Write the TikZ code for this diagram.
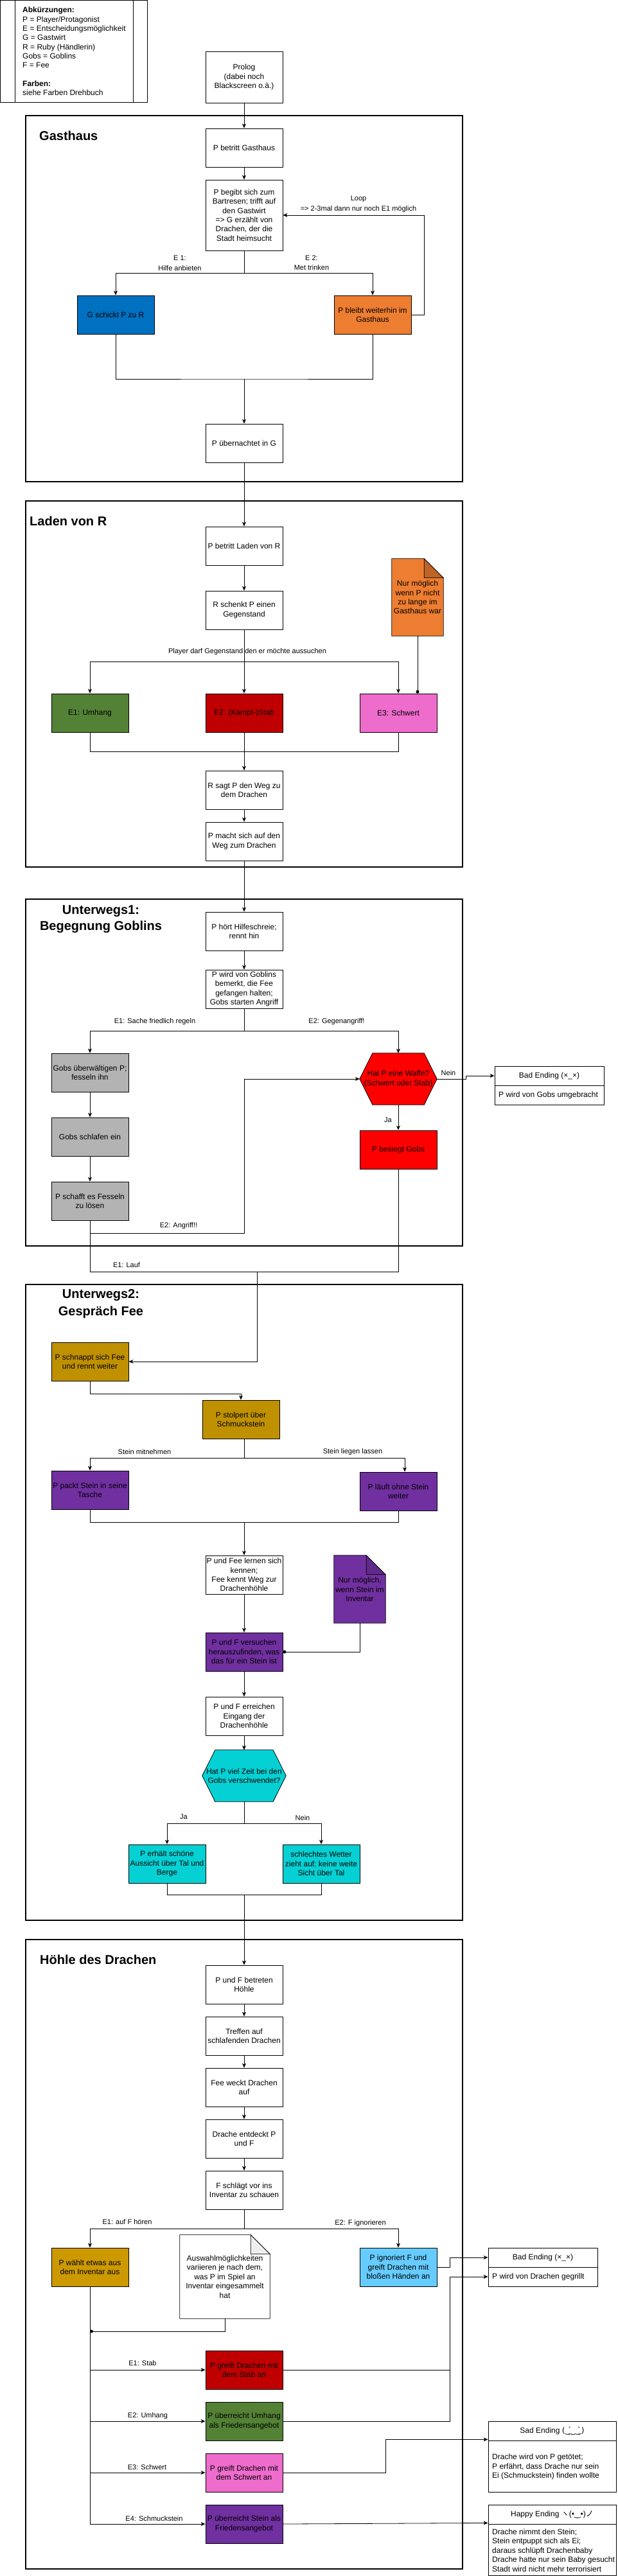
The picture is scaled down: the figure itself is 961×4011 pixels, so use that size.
\documentclass[tikz,border=0pt]{standalone}
\usepackage{fontspec}
\setmainfont{Liberation Sans}
\newfontfamily\djv{DejaVu Sans}
\newfontfamily\cjkf{Noto Sans CJK JP}
\usetikzlibrary{arrows.meta,calc}
\definecolor{cblue}{HTML}{0070C0}
\definecolor{corange}{HTML}{ED7D31}
\definecolor{cgreen}{HTML}{538135}
\definecolor{cdred}{HTML}{C00000}
\definecolor{cpink}{HTML}{EE6CCC}
\definecolor{cgray}{HTML}{B3B3B3}
\definecolor{cred}{HTML}{FF0000}
\definecolor{cgold}{HTML}{BF9000}
\definecolor{cgoldb}{HTML}{CC9900}
\definecolor{cpurple}{HTML}{7030A0}
\definecolor{ccyan}{HTML}{05D1D4}
\definecolor{clblue}{HTML}{66CCFF}
\definecolor{cfold}{HTML}{EEEEEE}
\newcommand\fA{\fontsize{12}{14.4}\selectfont}
\newcommand\fL{\fontsize{12}{14.3}\selectfont}
\newcommand\fB{\fontsize{11}{15.5}\selectfont}
\newcommand\fT{\fontsize{20}{25}\selectfont\bfseries}
\newcommand\fTT{\fontsize{20}{27}\selectfont\bfseries}
\tikzset{
  box/.style={draw, line width=0.8pt, minimum width=120pt, minimum height=60pt, inner sep=1pt, align=center, font=\fA},
  ghost/.style={draw=none, inner sep=0pt},
  frame/.style={draw, line width=1.2pt},
  lbl/.style={font=\fB, inner sep=0pt, align=center},
  ttl/.style={font=\fT, inner sep=0pt, align=center},
  con/.style={line width=0.8pt},
  arr/.style={-{Stealth[length=7pt,width=6pt,inset=2pt]}, line width=0.8pt},
  dotend/.style={-{Circle[length=5pt,width=5pt]}, line width=0.8pt},
  hdr/.style={draw, line width=0.8pt, minimum height=30pt, inner sep=1pt, font=\fA},
  bodytxt/.style={anchor=west, align=left, inner sep=0pt, font=\fA},
}
\begin{document}
\begin{tikzpicture}[x=1pt,y=-1pt]
\useasboundingbox (0,0) rectangle (961,4011);

% ---------- frames ----------
\draw[frame] (40,180) rectangle (720,750);
\draw[frame] (40,780) rectangle (720,1350);
\draw[frame] (40,1400) rectangle (720,1940);
\draw[frame] (40,2000) rectangle (720,2990);
\draw[frame] (40,3020) rectangle (720,4000);

\node[ttl, anchor=west] (t1) at (61,211) {Gasthaus};
\node[ttl, anchor=west] (t2) at (46,811) {Laden von R};
\node[ttl] (t3) at (157,1431.5) {Unterwegs1:\\Begegnung Goblins};
\node[ttl, font=\fTT] (t4) at (157,2030.5) {Unterwegs2:\\Gespräch Fee};
\node[ttl, anchor=west] (t5) at (62,3051) {Höhle des Drachen};

% ---------- legend ----------
\node[draw, line width=0.8pt, minimum width=229pt, minimum height=159pt, inner sep=0pt] (legend) at (115,80) {};
\draw[con] ($(legend.north west)+(23,0)$) -- ($(legend.south west)+(23,0)$);
\draw[con] ($(legend.north east)+(-23,0)$) -- ($(legend.south east)+(-23,0)$);
\node[anchor=west, align=left, font=\fL, inner sep=0pt] (legendtext) at (35,80) {\textbf{Abkürzungen:}\\P = Player/Protagonist\\E = Entscheidungsmöglichkeit\\G = Gastwirt\\R = Ruby (Händlerin)\\Gobs = Goblins\\F = Fee\\[14.3pt]\textbf{Farben:}\\siehe Farben Drehbuch};

% ---------- prolog + Gasthaus ----------
\node[box, minimum height=80pt] (prolog) at (380,120) {Prolog\\(dabei noch\\Blackscreen o.ä.)};
\node[box] (g1) at (380,230) {P betritt Gasthaus};
\node[box, minimum height=110pt] (g2) at (380,335) {P begibt sich zum\\Bartresen; trifft auf\\den Gastwirt\\=> G erzählt von\\Drachen, der die\\Stadt heimsucht};
\node[box, fill=cblue] (g3) at (180,490) {G schickt P zu R};
\node[box, fill=corange] (g4) at (580,490) {P bleibt weiterhin im\\Gasthaus};
\node[box] (g5) at (380,690) {P übernachtet in G};

\draw[arr] (prolog.south) -- (g1.north);
\draw[arr] (g1.south) -- (g2.north);
\coordinate (s1) at (380,425);
\draw[con] (g2.south) -- (s1);
\draw[arr] (s1) -| (g3.north);
\draw[arr] (s1) -| (g4.north);
\node[lbl] (l_e1) at (280,410) {E 1:\\Hilfe anbieten};
\node[lbl] (l_e2) at (485,409) {E 2:\\Met trinken};
\draw[arr] (g4.east) -- ++(20,0) |- (g2.east);
\node[lbl] (l_loop) at (558,318) {Loop\\=> 2-3mal dann nur noch E1 möglich};
\coordinate (m1) at (380,590);
\draw[con] (g3.south) |- (m1) -| (g4.south);
\draw[arr] (m1) -- (g5.north);

% ---------- Laden von R ----------
\node[box] (l1) at (380,850) {P betritt Laden von R};
\node[box] (l2) at (380,950) {R schenkt P einen\\Gegenstand};
\node[ghost, minimum width=80pt, minimum height=120pt] (lnote) at (650,930) {};
\draw[fill=corange, line width=0.8pt] (lnote.north west) -- ($(lnote.north east)+(-30,0)$) -- ($(lnote.north east)+(0,30)$) -- (lnote.south east) -- (lnote.south west) -- cycle;
\draw[fill=corange!80!black, line width=0.8pt] ($(lnote.north east)+(-30,0)$) -- ($(lnote.north east)+(-30,30)$) -- ($(lnote.north east)+(0,30)$) -- cycle;
\node[font=\fA, align=center, inner sep=0pt] (lnotet) at (650,930) {Nur möglich\\wenn P nicht\\zu lange im\\Gasthaus war};
\node[box, fill=cgreen] (l3) at (140,1110) {E1: Umhang};
\node[box, fill=cdred] (l4) at (380,1110) {E2: (Kampf-)Stab};
\node[box, fill=cpink] (l5) at (620,1110) {E3: Schwert};
\node[box] (l6) at (380,1230) {R sagt P den Weg zu\\dem Drachen};
\node[box] (l7) at (380,1310) {P macht sich auf den\\Weg zum Drachen};

\draw[arr] (g5.south) -- (l1.north);
\draw[arr] (l1.south) -- (l2.north);
\coordinate (s2) at (380,1030);
\draw[arr] (l2.south) -- (l4.north);
\draw[arr] (s2) -| (l3.north);
\draw[arr] (s2) -| (l5.north);
\node[lbl] (l_player) at (385,1015) {Player darf Gegenstand den er möchte aussuchen};
\draw[dotend] (lnote.south) -- (lnote.south |- l5.north);
\coordinate (m2) at (380,1170);
\draw[con] (l3.south) |- (m2) -| (l5.south);
\draw[arr] (l4.south) -- (l6.north);
\draw[arr] (l6.south) -- (l7.north);

% ---------- Unterwegs1 ----------
\node[box] (u1) at (380,1450) {P hört Hilfeschreie;\\rennt hin};
\node[box] (u2) at (380,1540) {P wird von Goblins\\bemerkt, die Fee\\gefangen halten;\\Gobs starten Angriff};
\node[box, fill=cgray] (u3) at (140,1670) {Gobs überwältigen P;\\fesseln ihn};
\node[box, fill=cgray] (u4) at (140,1770) {Gobs schlafen ein};
\node[box, fill=cgray] (u5) at (140,1870) {P schafft es Fesseln\\zu lösen};
\node[ghost, minimum width=120pt, minimum height=80pt] (u6) at (620,1680) {};
\draw[fill=cred, line width=0.8pt] ($(u6.north west)+(20,0)$) -- ($(u6.north east)+(-20,0)$) -- (u6.east) -- ($(u6.south east)+(-20,0)$) -- ($(u6.south west)+(20,0)$) -- (u6.west) -- cycle;
\node[font=\fA, align=center, inner sep=0pt] (u6t) at (620,1680) {Hat P eine Waffe?\\(Schwert oder Stab)};
\node[box, fill=cred] (u7) at (620,1790) {P besiegt Gobs};
\node[hdr, minimum width=170pt] (bad1h) at (855,1675) {Bad Ending (×\_×)};
\node[hdr, minimum width=170pt] (bad1b) at (855,1705) {};
\node[bodytxt] (bad1t) at (776,1705) {P wird von Gobs umgebracht};

\draw[arr] (l7.south) -- (u1.north);
\draw[arr] (u1.south) -- (u2.north);
\coordinate (s3) at (380,1605);
\draw[con] (u2.south) -- (s3);
\draw[arr] (s3) -| (u3.north);
\draw[arr] (s3) -| (u6.north);
\node[lbl] (l_u1) at (241,1591) {E1: Sache friedlich regeln};
\node[lbl] (l_u2) at (524,1591) {E2: Gegenangriff!};
\draw[arr] (u3.south) -- (u4.north);
\draw[arr] (u4.south) -- (u5.north);
\coordinate (a1) at (380,1920);
\draw[arr] (u5.south) |- (a1) |- (u6.west);
\node[lbl] (l_u3) at (278,1909) {E2: Angriff!!};
\draw[arr] (u6.south) -- (u7.north);
\node[lbl] (l_ja1) at (604,1744) {Ja};
\draw[arr] (u6.east) -- ++(45,0) |- (bad1h.west);
\node[lbl] (l_nein1) at (698,1671) {Nein};
\coordinate (m3) at (400,1980);
\draw[con] (u5.south) |- (m3) -| (u7.south);
\node[lbl] (l_lauf) at (197,1970) {E1: Lauf};

% ---------- Unterwegs2 ----------
\node[box, fill=cgold] (w1) at (140,2120) {P schnappt sich Fee\\und rennt weiter};
\node[box, fill=cgold] (w2) at (375,2210) {P stolpert über\\Schmuckstein};
\node[box, fill=cpurple] (w3) at (140,2320) {P packt Stein in seine\\Tasche};
\node[box, fill=cpurple] (w4) at (620,2322) {P läuft ohne Stein\\weiter};
\node[box] (w5) at (380,2452) {P und Fee lernen sich\\kennen;\\Fee kennt Weg zur\\Drachenhöhle};
\node[ghost, minimum width=80pt, minimum height=105pt] (wnote) at (560,2474.5) {};
\draw[fill=cpurple, line width=0.8pt] (wnote.north west) -- ($(wnote.north east)+(-30,0)$) -- ($(wnote.north east)+(0,30)$) -- (wnote.south east) -- (wnote.south west) -- cycle;
\draw[fill=cpurple!85!black, line width=0.8pt] ($(wnote.north east)+(-30,0)$) -- ($(wnote.north east)+(-30,30)$) -- ($(wnote.north east)+(0,30)$) -- cycle;
\node[font=\fA, align=center, inner sep=0pt] (wnotet) at (560,2475) {Nur möglich,\\wenn Stein im\\Inventar};
\node[box, fill=cpurple] (w6) at (380,2572) {P und F versuchen\\herauszufinden, was\\das für ein Stein ist};
\node[box] (w7) at (380,2672) {P und F erreichen\\Eingang der\\Drachenhöhle};
\node[ghost, minimum width=130pt, minimum height=80pt] (w8) at (380,2765) {};
\draw[fill=ccyan, line width=0.8pt] ($(w8.north west)+(20,0)$) -- ($(w8.north east)+(-20,0)$) -- (w8.east) -- ($(w8.south east)+(-20,0)$) -- ($(w8.south west)+(20,0)$) -- (w8.west) -- cycle;
\node[font=\fA, align=center, inner sep=0pt] (w8t) at (380,2765) {Hat P viel Zeit bei den\\Gobs verschwendet?};
\node[box, fill=ccyan] (w9) at (260,2902) {P erhält schöne\\Aussicht über Tal und\\Berge};
\node[box, fill=ccyan] (w10) at (500,2902) {schlechtes Wetter\\zieht auf; keine weite\\Sicht über Tal};

\draw[arr] (m3) |- (w1.east);
\draw[arr] (w1.south) -- ++(0,20) -| (w2.north);
\coordinate (s4) at (380,2270);
\draw[con] (w2.south -| s4) -- (s4);
\draw[arr] (s4) -| (w3.north);
\draw[arr] (s4) -| ([xshift=10pt]w4.north);
\node[lbl] (l_w1) at (225,2261) {Stein mitnehmen};
\node[lbl] (l_w2) at (549,2261) {Stein liegen lassen};
\coordinate (m4) at (380,2370);
\draw[con] (w3.south) |- (m4) -| (w4.south);
\draw[arr] (m4) -- (w5.north);
\draw[arr] (w5.south) -- (w6.north);
\draw[dotend] (wnote.south) |- (w6.east);
\draw[arr] (w6.south) -- (w7.north);
\draw[arr] (w7.south) -- (w8.north);
\coordinate (s5) at (380,2839);
\draw[con] (w8.south) -- (s5);
\draw[arr] (s5) -| (w9.north);
\draw[arr] (s5) -| (w10.north);
\node[lbl] (l_ja2) at (286,2829) {Ja};
\node[lbl] (l_nein2) at (471,2831) {Nein};
\coordinate (m5) at (380,2950);
\draw[con] (w9.south) |- (m5) -| (w10.south);

% ---------- Hoehle ----------
\node[box] (h1) at (380,3090) {P und F betreten\\Höhle};
\node[box] (h2) at (380,3170) {Treffen auf\\schlafenden Drachen};
\node[box] (h3) at (380,3250) {Fee weckt Drachen\\auf};
\node[box] (h4) at (380,3330) {Drache entdeckt P\\und F};
\node[box] (h5) at (380,3410) {F schlägt vor ins\\Inventar zu schauen};
\node[box, fill=cgoldb] (h6) at (140,3530) {P wählt etwas aus\\dem Inventar aus};
\node[ghost, minimum width=140pt, minimum height=130pt] (hnote) at (350,3545) {};
\draw[fill=white, line width=0.8pt] (hnote.north west) -- ($(hnote.north east)+(-30,0)$) -- ($(hnote.north east)+(0,30)$) -- (hnote.south east) -- (hnote.south west) -- cycle;
\draw[fill=cfold, line width=0.8pt] ($(hnote.north east)+(-30,0)$) -- ($(hnote.north east)+(-30,30)$) -- ($(hnote.north east)+(0,30)$) -- cycle;
\node[font=\fA, align=center, inner sep=0pt] (hnotet) at (350,3545) {Auswahlmöglichkeiten\\variieren je nach dem,\\was P im Spiel an\\Inventar eingesammelt\\hat};
\node[box, fill=clblue] (h7) at (620,3530) {P ignoriert F und\\greift Drachen mit\\bloßen Händen an};
\node[hdr, minimum width=170pt] (bad2h) at (845,3515) {Bad Ending (×\_×)};
\node[hdr, minimum width=170pt] (bad2b) at (845,3545) {};
\node[bodytxt] (bad2t) at (766,3545) {P wird von Drachen gegrillt};
\node[box, fill=cdred] (h8) at (380,3690) {P greift Drachen mit\\dem Stab an};
\node[box, fill=cgreen] (h9) at (380,3770) {P überreicht Umhang\\als Friedensangebot};
\node[box, fill=cpink] (h10) at (380,3850) {P greift Drachen mit\\dem Schwert an};
\node[box, fill=cpurple] (h11) at (380,3930) {P überreicht Stein als\\Friedensangebot};
\node[hdr, minimum width=199pt] (sadh) at (859.5,3785) {Sad Ending {\djv (^^^^203f^^^^0329^^^^0301\_^^^^203f^^^^0329^^^^0300)}};
\node[hdr, minimum width=199pt, minimum height=80pt] (sadb) at (859.5,3840) {};
\node[bodytxt] (sadt) at (766,3841) {Drache wird von P getötet;\\P erfährt, dass Drache nur sein\\Ei (Schmuckstein) finden wollte};
\node[hdr, minimum width=199pt] (happyh) at (859.5,3915) {Happy Ending {\cjkf ヽ}(•{\djv ^^^^203f}•){\cjkf ノ}};
\node[hdr, minimum width=199pt, minimum height=80pt] (happyb) at (859.5,3970) {};
\node[bodytxt] (happyt) at (766,3971) {Drache nimmt den Stein;\\Stein entpuppt sich als Ei;\\daraus schlüpft Drachenbaby\\Drache hatte nur sein Baby gesucht\\Stadt wird nicht mehr terrorisiert};

\draw[arr] (m5) -- (h1.north);
\draw[arr] (h1.south) -- (h2.north);
\draw[arr] (h2.south) -- (h3.north);
\draw[arr] (h3.south) -- (h4.north);
\draw[arr] (h4.south) -- (h5.north);
\coordinate (s6) at (380,3470);
\draw[con] (h5.south) -- (s6);
\draw[arr] (s6) -| (h6.north);
\draw[arr] (s6) -| (h7.north);
\node[lbl] (l_h1) at (198,3460) {E1: auf F hören};
\node[lbl] (l_h2) at (561,3462) {E2: F ignorieren};
\draw[arr] (h7.east) -- ++(20,0) |- (bad2h.west);
\coordinate (d1) at (140,3630);
\draw[dotend] (hnote.south) |- (d1);
\coordinate (tr) at (140,3930);
\draw[con] (h6.south) -- (tr);
\draw[arr] (h6.south |- h8.west) -- (h8.west);
\draw[arr] (h6.south |- h9.west) -- (h9.west);
\draw[arr] (h6.south |- h10.west) -- (h10.west);
\draw[arr] (tr) -- (h11.west);
\node[lbl] (l_b1) at (222,3680) {E1: Stab};
\node[lbl] (l_b2) at (230,3762) {E2: Umhang};
\node[lbl] (l_b3) at (229,3842) {E3: Schwert};
\node[lbl] (l_b4) at (240,3922) {E4: Schmuckstein};
\coordinate (c2) at (700,3545);
\draw[arr] (h9.east) -| (c2) -- (bad2b.west);
\draw[con] (h8.east) -- (h8.east -| c2);
\draw[arr] (h10.east) -- ++(160,0) |- ([yshift=2pt]sadh.south west);
\draw[arr] (h11.east) -- ([yshift=2pt]happyh.south west);
\end{tikzpicture}
\end{document}
